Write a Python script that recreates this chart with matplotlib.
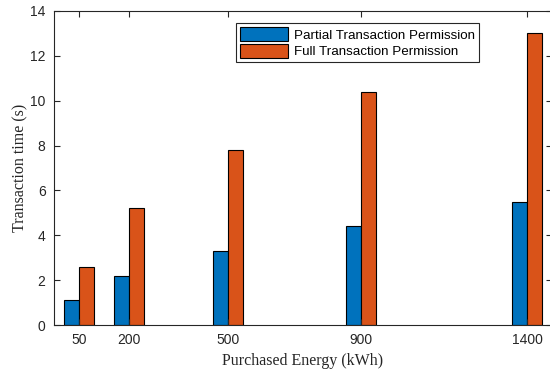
import matplotlib.pyplot as plt
import numpy as np

energy = [50, 200, 500, 900, 1400]
partial = [1.1, 2.2, 3.3, 4.4, 5.5]
full = [2.6, 5.2, 7.8, 10.4, 13.0]

w = 45
x = np.array(energy)

fig = plt.figure(figsize=(5.5, 3.75), dpi=100)
ax = fig.add_axes([0.098, 0.133, 0.906, 0.838])

ax.bar(x - w / 2, partial, width=w, color="#0072BD", edgecolor="black",
       linewidth=0.8, label="Partial Transaction Permission")
ax.bar(x + w / 2, full, width=w, color="#D95319", edgecolor="black",
       linewidth=0.8, label="Full Transaction Permission")

ax.set_xlim(-25, 1475)
ax.set_ylim(0, 14)
ax.set_xticks(energy)
ax.set_yticks(range(0, 15, 2))

ax.tick_params(direction="in", top=True, right=True, length=4, width=0.8,
               labelsize=10, colors="#262626", pad=6)
for lbl in ax.get_xticklabels() + ax.get_yticklabels():
    lbl.set_family("Liberation Sans")
for s in ax.spines.values():
    s.set_color("#262626")
    s.set_linewidth(0.8)

ax.set_xlabel("Purchased Energy (kWh)", family="Liberation Serif",
              fontsize=11.5, color="#262626", labelpad=4)
ax.set_ylabel("Transaction time (s)", family="Liberation Serif",
              fontsize=11.5, color="#262626", labelpad=1)

leg = ax.legend(loc="upper left", bbox_to_anchor=(0.366, 0.962),
                prop={"family": "Liberation Sans", "size": 9.6},
                fancybox=False, framealpha=1, edgecolor="#262626",
                borderpad=0.3, handlelength=3.6, handleheight=1.3,
                handletextpad=0.4, labelspacing=0.15, borderaxespad=0)
leg.get_frame().set_linewidth(0.8)

fig.savefig("out.png", dpi=100)
